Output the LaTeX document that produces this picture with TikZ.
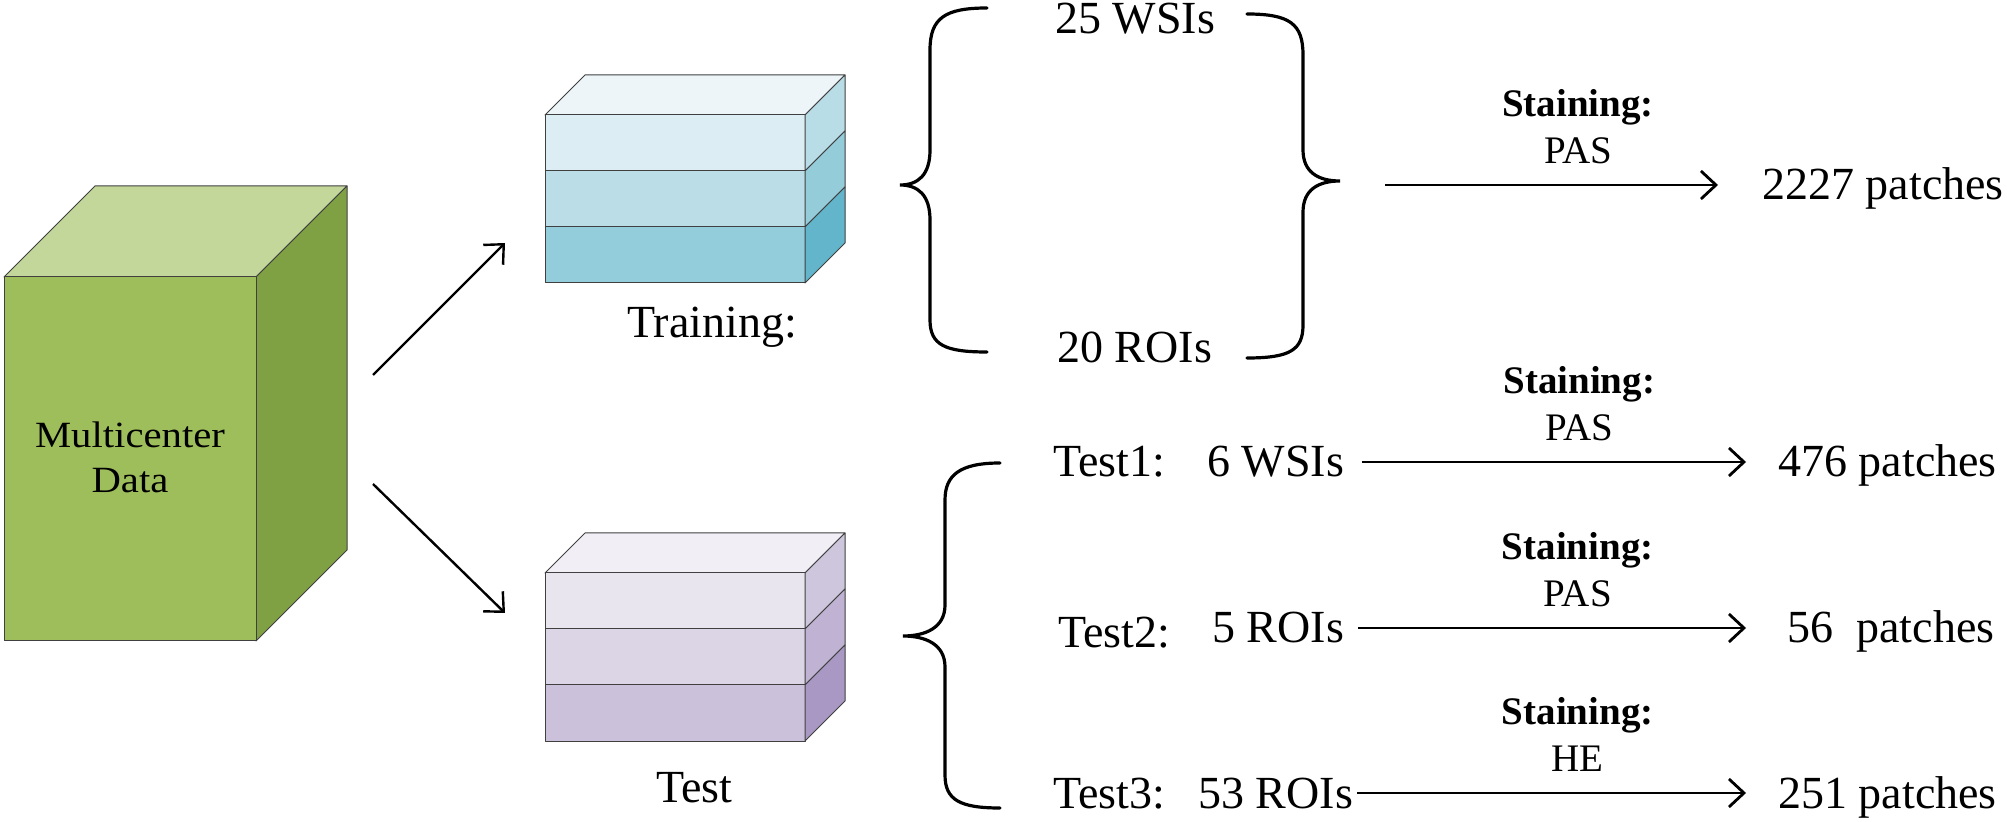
\documentclass[tikz,border=0pt]{standalone}
\usepackage{fontspec}
\setmainfont{Liberation Serif}
\newfontfamily\cubefont[FakeStretch=1.1]{Liberation Serif}
\usetikzlibrary{arrows.meta}

\definecolor{cubetop}{HTML}{C4D79B}
\definecolor{cubefront}{HTML}{9EBE5C}
\definecolor{cubeside}{HTML}{80A143}
\definecolor{trtop}{HTML}{EDF5F8}
\definecolor{trA}{HTML}{DCEEF4}
\definecolor{trAs}{HTML}{B9DDE7}
\definecolor{trB}{HTML}{BADDE7}
\definecolor{trBs}{HTML}{94CCDA}
\definecolor{trC}{HTML}{93CDDB}
\definecolor{trCs}{HTML}{62B5CB}
\definecolor{tetop}{HTML}{F1EFF5}
\definecolor{teA}{HTML}{E8E5EF}
\definecolor{teAs}{HTML}{CEC6DD}
\definecolor{teB}{HTML}{DCD5E6}
\definecolor{teBs}{HTML}{BFB2D2}
\definecolor{teC}{HTML}{CCC1DA}
\definecolor{teCs}{HTML}{A898C3}

% one layer of a stack: top y, front colour, side colour
\newcommand{\slab}[3]{%
  \filldraw[fill=#2,face] (545,#1) rectangle (805,#1+56);
  \filldraw[fill=#3,face] (805,#1) -- (845,#1-40) -- (845,#1+16) -- (805,#1+56) -- cycle;
}

\begin{document}
\begin{tikzpicture}[x=0.5pt,y=-0.5pt,
    face/.style={draw=black!75,line width=0.5pt,line join=round},
    lbl/.style={inner sep=0,anchor=base west,font=\fontsize{23}{27}\selectfont,text height=15pt,text depth=0pt},
    cube/.style={inner sep=0,anchor=base,font=\cubefont\fontsize{18.5}{22}\selectfont},
    stain/.style={inner sep=0,align=center,font=\fontsize{19.5}{23.5}\selectfont},
    flow/.style={-{Straight Barb[length=7.5pt,width=14pt]},line width=1.4pt},
    brace/.style={line width=1.6pt,line cap=round}]
    \useasboundingbox (0,0) rectangle (2007,822);

    % multicenter cube
    \filldraw[fill=cubetop,face] (4,277) -- (95,186) -- (347,186) -- (256,277) -- cycle;
    \filldraw[fill=cubeside,face] (256,277) -- (347,186) -- (347,550) -- (256,641) -- cycle;
    \filldraw[fill=cubefront,face] (4,277) rectangle (256,641);
    \node[cube] (multi) at (130,448) {Multicenter};
    \node[cube] (data) at (130,493) {Data};

    % training stack
    \filldraw[fill=trtop,face] (545,115) -- (585,75) -- (845,75) -- (805,115) -- cycle;
    \foreach \y/\f/\s in {115/trA/trAs,171/trB/trBs,227/trC/trCs} {\slab{\y}{\f}{\s}}
    \node[lbl] (train) at (627,338) {Training:};

    % test stack
    \filldraw[fill=tetop,face] (545,573) -- (585,533) -- (845,533) -- (805,573) -- cycle;
    \foreach \y/\f/\s in {573/teA/teAs,629/teB/teBs,685/teC/teCs} {\slab{\y}{\f}{\s}}
    \node[lbl] (test) at (656,802) {Test};

    \coordinate (upS) at (373,375);
    \coordinate (upE) at (505,243);
    \coordinate (dnS) at (373,484);
    \coordinate (dnE) at (505,613);
    \draw[flow,line width=1.2pt] (upS) -- (upE);
    \draw[flow,line width=1.2pt] (dnS) -- (dnE);

    % braces
    \draw[brace] (987,8) .. controls (945,8) and (930,18) .. (930,50) -- (930,150)
        .. controls (930,175) and (918,185) .. (900,185) .. controls (918,185) and (930,195) .. (930,220)
        -- (930,320) .. controls (930,345) and (945,352) .. (987,352);
    \draw[brace] (1247,14) .. controls (1290,14) and (1303,24) .. (1303,55) -- (1303,150)
        .. controls (1303,172) and (1318,181) .. (1340,181) .. controls (1318,181) and (1303,190) .. (1303,212)
        -- (1303,325) .. controls (1303,350) and (1290,358) .. (1247,358);
    \draw[brace] (1000,463) .. controls (960,463) and (945,475) .. (945,500) -- (945,605)
        .. controls (945,628) and (925,636) .. (903,636) .. controls (925,636) and (945,644) .. (945,667)
        -- (945,775) .. controls (945,800) and (960,808) .. (1000,808);

    % training rows
    \node[lbl] (wsi25) at (1055,34) {25 WSIs};
    \node[lbl] (roi20) at (1057,363) {20 ROIs};
    \coordinate (trtip) at (1340,185);
    \node[lbl] (p2227) at (1762,200) {2227 patches};
    \draw[flow,shorten <=22.5pt,shorten >=22pt] (trtip) -- node[stain,above=10pt,xshift=13.5pt] {\textbf{Staining:}\\PAS} (p2227);

    % test rows
    \node[lbl] (t1) at (1053,477) {Test1:};
    \node[lbl] (wsi6) at (1207,477) {6 WSIs};
    \node[lbl] (p476) at (1778,477) {476 patches};
    \node[lbl] (t2) at (1058,648) {Test2:};
    \node[lbl] (roi5) at (1212,643) {5 ROIs};
    \node[lbl] (p56) at (1787,643) {56~ patches};
    \node[lbl] (t3) at (1053,808) {Test3:};
    \node[lbl] (roi53) at (1198,808) {53 ROIs};
    \node[lbl] (p251) at (1778,808) {251 patches};
    \draw[flow,shorten <=8.5pt,shorten >=16pt] (wsi6) -- node[stain,above=10pt,xshift=9pt] {\textbf{Staining:}\\PAS} (p476);
    \draw[flow,shorten <=7pt,shorten >=20.5pt] (roi5) -- node[stain,above=10pt,xshift=6pt] {\textbf{Staining:}\\PAS} (p56);
    \draw[flow,shorten <=2pt,shorten >=16pt] (roi53) -- node[stain,above=10pt,xshift=6pt] {\textbf{Staining:}\\HE} (p251);
\end{tikzpicture}
\end{document}
